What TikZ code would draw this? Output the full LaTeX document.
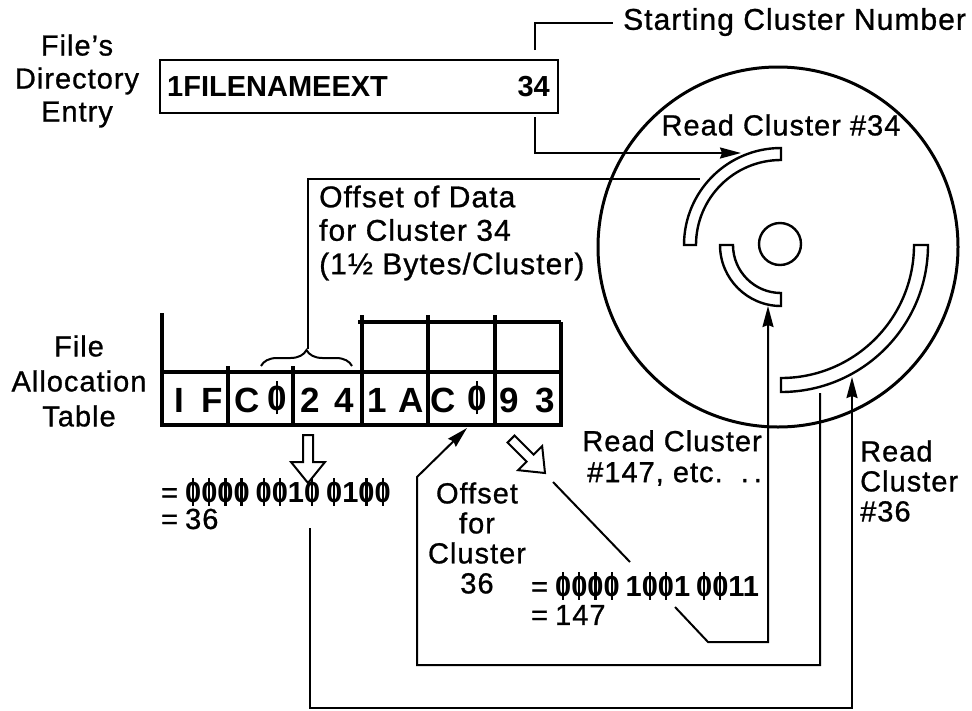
\documentclass[tikz,border=0pt]{standalone}
\usepackage{fontspec}
\setmainfont{Liberation Sans}[LetterSpace=3.5,FakeBold=0.9]
\newfontfamily\bfam{Liberation Sans}
\usetikzlibrary{arrows.meta,decorations.pathreplacing,calc}
% zero with a stroke through it
\newcommand\slz{\ooalign{\hfil0\hfil\cr\hfil\rule[-0.12em]{0.075em}{0.96em}\hfil\cr}}
\newcommand\bits[1]{{\bfam\bfseries #1}}
\begin{document}
\begin{tikzpicture}[x=1pt,y=-1pt,
  conn/.style={line width=2pt},
  arr/.style={conn,-{Stealth[length=21pt,width=11pt,inset=2pt]}},
  txt/.style={inner sep=0pt,font=\fontsize{29}{32}\selectfont},
  cellch/.style={inner sep=0pt,font=\bfam\fontsize{35}{35}\selectfont\bfseries},
  strip/.style={draw,fill=white,line width=2.4pt,line join=miter},
  hollow/.style={draw,fill=white,line width=2pt,line join=miter}]
\useasboundingbox (0,0) rectangle (972,710);

% ---------- directory entry ----------
\node[txt,align=center,font=\fontsize{29}{33}\selectfont] (lbldir) at (77,81) {File’s\\Directory\\Entry};
\node[draw,line width=2.6pt,minimum width=398pt,minimum height=53pt,inner sep=0pt] (dir) at (359,86.5) {};
\node[txt,anchor=west,font=\bfam\fontsize{29}{32}\selectfont\bfseries] (fname) at (167,87) {1FILENAMEEXT};
\node[txt,anchor=east,font=\bfam\fontsize{29}{32}\selectfont\bfseries] (n34) at (550,87) {34};
\node[txt,anchor=west,font=\fontsize{30}{32}\selectfont] (start) at (623,22) {Starting Cluster Number};
\coordinate (stA) at (535,50);
\coordinate (stB) at (613,23);
\draw[conn] (stA) |- (stB);

% ---------- disk ----------
\coordinate (dc) at (778,247);
\coordinate (ac) at (781,245);
\draw[line width=3pt] (dc) circle[radius=180pt];
\draw[line width=2.4pt] (780,244) circle[radius=21pt];
\draw[strip] ($(ac)+(90:97pt)$) arc[start angle=90,end angle=180,radius=97pt]
  -- ($(ac)+(180:85pt)$) arc[start angle=180,end angle=90,radius=85pt] -- cycle;
\draw[strip] ($(ac)+(180:61pt)$) arc[start angle=180,end angle=270,radius=61pt]
  -- ($(ac)+(270:48pt)$) arc[start angle=270,end angle=180,radius=48pt] -- cycle;
\draw[strip] ($(ac)+(0:147pt)$) arc[start angle=0,end angle=-90,radius=147pt]
  -- ($(ac)+(-90:133pt)$) arc[start angle=-90,end angle=0,radius=133pt] -- cycle;
\node[txt] (rc34) at (781,125) {Read Cluster \#34};

% lead from the starting cluster number to cluster 34
\coordinate (d34) at (535,117);
\coordinate (t34) at (741,153);
\draw[arr] (d34) |- (t34);

% ---------- file allocation table ----------
\node[txt,align=center,font=\fontsize{29}{35}\selectfont] (lblfat) at (79,381) {File\\Allocation\\Table};
\draw[line width=3.2pt] (162,372) rectangle (561,425);
\foreach \x in {228,293,362,428,495} \draw[line width=3.2pt] (\x,372) -- (\x,425);
\draw[line width=3.2pt] (162,313) -- (162,372);
\draw[line width=3.2pt] (228,366) -- (228,372);
\draw[line width=3.2pt] (293,366) -- (293,372);
\draw[line width=3.2pt] (358,322) -- (561,322);
\foreach \x in {362,428,495} \draw[line width=3.2pt] (\x,315) -- (\x,372);
\draw[line width=3.2pt] (561,322) -- (561,372);

\node[cellch] (c1a) at (179,400) {I};
\node[cellch] (c1b) at (212,400) {F};
\node[cellch] (c2a) at (247,400) {C};
\node[cellch] (c2b) at (277,400) {\slz};
\node[cellch] (c3a) at (310,400) {2};
\node[cellch] (c3b) at (344,400) {4};
\node[cellch] (c4a) at (377,400) {1};
\node[cellch] (c4b) at (411,400) {A};
\node[cellch] (c5a) at (443,400) {C};
\node[cellch] (c5b) at (477,400) {\slz};
\node[cellch] (c6a) at (509,400) {9};
\node[cellch] (c6b) at (545,400) {3};

% brace over the 1 1/2 byte entry for cluster 34
\coordinate (brL) at (261,366);
\coordinate (brR) at (352,366);
\draw[conn,decorate,decoration={brace,amplitude=16pt}] (brL) -- (brR);
\coordinate (brT) at (308,349);
\coordinate (brE) at (700,179);
\draw[conn] (brT) |- (brE);
\node[txt,align=left,anchor=west,font=\fontsize{30}{33.5}\selectfont] (offdata) at (319,233)
  {Offset of Data\\for Cluster 34\\(1½ Bytes/Cluster)};

% ---------- decoding the entry for cluster 34 ----------
\draw[hollow,shift={(308,483)}] (0,0) -- (-17,-21) -- (-5,-21) -- (-5,-48) -- (5,-48) -- (5,-21) -- (17,-21) -- cycle;
\node[txt,anchor=west] (bin36) at (161,494) {=\hspace{7pt}\bits{\slz\slz\slz\slz\hspace{6pt}\slz\slz1\slz\hspace{6pt}\slz1\slz\slz}};
\node[txt,anchor=west] (dec36) at (161,519) {=\hspace{7pt}36};
\coordinate (b36) at (310,528);
\coordinate (k36) at (852,708);
\coordinate (t36) at (852,377);
\draw[arr] (b36) |- (k36) -- (t36);
\node[txt,align=left,anchor=west,font=\fontsize{29}{30}\selectfont] (rc36) at (860,481) {Read\\Cluster\\\#36};

% ---------- offset of the entry for cluster 36 ----------
\coordinate (o36a) at (820,393);
\coordinate (o36b) at (417,665);
\coordinate (o36c) at (417,477);
\coordinate (o36t) at (467,428);
\draw[arr] (o36a) |- (o36b) -- (o36c) -- (o36t);
\node[txt,align=center,font=\fontsize{29}{30}\selectfont] (off36) at (477,538) {Offset\\for\\Cluster\\36};

% ---------- decoding the entry for cluster 36 ----------
\draw[hollow,shift={(545,473)},rotate=45] (0,0) -- (-17,-21) -- (-5,-21) -- (-5,-48) -- (5,-48) -- (5,-21) -- (17,-21) -- cycle;
\coordinate (dg1) at (553,482);
\coordinate (dg2) at (630,562);
\draw[conn] (dg1) -- (dg2);
\node[txt,anchor=west] (bin147) at (531,588) {=\hspace{7pt}\bits{\slz\slz\slz\slz\hspace{6pt}1\slz\slz1\hspace{6pt}\slz\slz11}};
\node[txt,anchor=west] (dec147) at (531,615) {=\hspace{7pt}147};
\coordinate (p1) at (675,607);
\coordinate (p2) at (708,642);
\coordinate (p3) at (768,642);
\coordinate (t147) at (768,306);
\draw[arr] (p1) -- (p2) -- (p3) -- (t147);
\node[txt,align=right,anchor=east,font=\fontsize{29}{31}\selectfont] (rc147) at (762,458) {Read Cluster\\\#147, etc.\ \ .\,.};
\end{tikzpicture}
\end{document}
